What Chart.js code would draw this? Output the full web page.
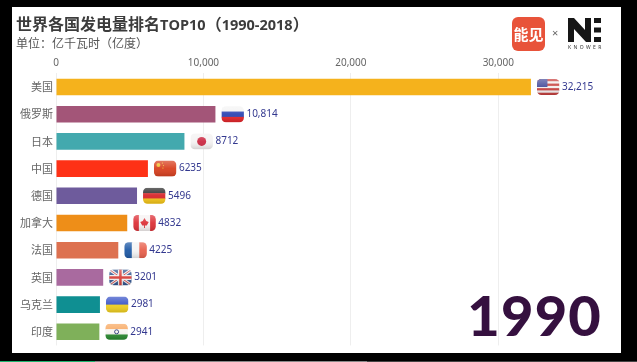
<!doctype html>
<html lang="zh">
  <head>
    <meta charset="utf-8">
    <title>世界各国发电量排名TOP10</title>
    <script src="https://cdn.jsdelivr.net/npm/chart.js"></script>
    <style>
      html, body { margin: 0; padding: 0; background: #000; overflow: hidden; }
      #panel { position: absolute; left: 12px; top: 7px; width: 609px; height: 346px; background: #fff; }
      #panel canvas { position: absolute; left: 0; top: 0; }
      #title { position: absolute; left: 4px; top: 5px; white-space: nowrap; font: 700 16px/22px "Noto Sans CJK SC"; color: #3c3c3c; }
      #title span { font: 700 14.5px/22px "Open Sans"; }
      #subtitle { position: absolute; left: 4px; top: 27px; white-space: nowrap; font: 12px/18px "Noto Sans CJK SC"; color: #555; }
      #year { position: absolute; right: 19px; top: 273px; font: 900 56px/70px Lato, sans-serif; color: #35103f; letter-spacing: 1.2px; }
      #logo { position: absolute; left: 500px; top: 10px; width: 33px; height: 34px; border-radius: 6px; background: #e8533a; color: #fff; font: 700 15px/34px "Noto Sans CJK SC"; text-align: center; }
      #times { position: absolute; left: 540px; top: 18px; font: 11px/16px "Noto Sans"; color: #666; }
      #ne { position: absolute; left: 556px; top: 11px; }
      #knower { position: absolute; left: 556px; top: 37px; font: 5px/6px "Noto Sans"; letter-spacing: 2.4px; color: #333; }
      .bar { position: absolute; top: 354px; height: 1px; }
    </style>
  </head>
  <body>
    <div id="panel">
      <canvas id="rankChart" width="609" height="348"></canvas>
      <div id="title">世界各国发电量排名<span>TOP10</span>（<span>1990-2018</span>）</div>
      <div id="subtitle">单位：亿千瓦时（亿度）</div>
      <div id="year">1990</div>
      <div id="logo">能见</div>
      <div id="times">×</div>
      <svg id="ne" width="34" height="24" viewBox="0 0 34 24">
        <polygon fill="#161616" points="0,0 6,0 17,12 17,0 23,0 23,24 18,24 6,11 6,24 0,24"/>
        <rect fill="#161616" x="26" y="0" width="7" height="5"/>
        <rect fill="#161616" x="26" y="9.5" width="7" height="5"/>
        <rect fill="#161616" x="26" y="19" width="7" height="5"/>
      </svg>
      <div id="knower">KNOWER</div>
      <div class="bar" style="left:-12px;width:95px;background:#1db56f"></div>
      <div class="bar" style="left:83px;width:272px;background:#888"></div>
      <div class="bar" style="left:355px;width:270px;background:#444"></div>
    </div>

    <script>
      const countries = ['美国', '俄罗斯', '日本', '中国', '德国', '加拿大', '法国', '英国', '乌克兰', '印度'];
      const values = [32215, 10814, 8712, 6235, 5496, 4832, 4225, 3201, 2981, 2941];
      const barColors = ['#f5b21c', '#a35578', '#43a9ae', '#fe3116', '#6e5b9c', '#ee8e18', '#dd7150', '#a96a9f', '#0f8f92', '#7fb05a'];
      const xTicks = [0, 10000, 20000, 30000];

      const FLAG_W = 22.5, FLAG_H = 16;

      function stripes(ctx, colors, vertical) {
        colors.forEach(function (c, i) {
          ctx.fillStyle = c;
          if (vertical) ctx.fillRect(i * FLAG_W / colors.length, 0, FLAG_W / colors.length + 0.5, FLAG_H);
          else ctx.fillRect(0, i * FLAG_H / colors.length, FLAG_W, FLAG_H / colors.length + 0.5);
        });
      }

      function line(ctx, color, width, x1, y1, x2, y2) {
        ctx.strokeStyle = color;
        ctx.lineWidth = width;
        ctx.beginPath();
        ctx.moveTo(x1, y1);
        ctx.lineTo(x2, y2);
        ctx.stroke();
      }

      // each flag is drawn in a local 22.5 x 16 box
      const flagPainters = {
        '美国': function (ctx) {
          stripes(ctx, ['#c8413f', '#f3eeee', '#c8413f', '#f3eeee', '#c8413f', '#f3eeee', '#c8413f']);
          ctx.fillStyle = '#4a4f9c';
          ctx.fillRect(0, 0, 10.5, 8);
        },
        '俄罗斯': function (ctx) { stripes(ctx, ['#f4f4f4', '#2c46b4', '#e5252a']); },
        '日本': function (ctx) {
          ctx.fillStyle = '#f4f2f2';
          ctx.fillRect(0, 0, FLAG_W, FLAG_H);
          ctx.fillStyle = '#cc2a44';
          ctx.beginPath();
          ctx.arc(FLAG_W / 2, FLAG_H / 2, 4.5, 0, Math.PI * 2);
          ctx.fill();
        },
        '中国': function (ctx) {
          ctx.fillStyle = '#d8401f';
          ctx.fillRect(0, 0, FLAG_W, FLAG_H);
          ctx.fillStyle = '#f0c030';
          ctx.beginPath();
          ctx.arc(4.5, 4.5, 2, 0, Math.PI * 2);
          ctx.fill();
          [[8, 2], [9, 4.5], [8.5, 7]].forEach(function (p) { ctx.fillRect(p[0], p[1], 1, 1); });
        },
        '德国': function (ctx) { stripes(ctx, ['#2a2a2a', '#d8262a', '#f4c518']); },
        '加拿大': function (ctx) {
          stripes(ctx, ['#dd3138', '#f6f2f2', '#f6f2f2', '#dd3138'], true);
          ctx.fillStyle = '#dd3138';
          ctx.beginPath();
          ctx.moveTo(11.25, 3);
          ctx.lineTo(13, 6);
          ctx.lineTo(15.5, 7);
          ctx.lineTo(13.5, 10.5);
          ctx.lineTo(11.7, 10.5);
          ctx.lineTo(11.7, 13);
          ctx.lineTo(10.8, 13);
          ctx.lineTo(10.8, 10.5);
          ctx.lineTo(9, 10.5);
          ctx.lineTo(7, 7);
          ctx.lineTo(9.5, 6);
          ctx.closePath();
          ctx.fill();
        },
        '法国': function (ctx) { stripes(ctx, ['#1f5aa6', '#f4f4f4', '#e8604c'], true); },
        '英国': function (ctx) {
          ctx.fillStyle = '#33568f';
          ctx.fillRect(0, 0, FLAG_W, FLAG_H);
          line(ctx, '#eee', 3, 0, 0, FLAG_W, FLAG_H);
          line(ctx, '#eee', 3, FLAG_W, 0, 0, FLAG_H);
          line(ctx, '#d0484a', 1, 0, 0, FLAG_W, FLAG_H);
          line(ctx, '#d0484a', 1, FLAG_W, 0, 0, FLAG_H);
          line(ctx, '#eee', 5, FLAG_W / 2, 0, FLAG_W / 2, FLAG_H);
          line(ctx, '#eee', 5, 0, FLAG_H / 2, FLAG_W, FLAG_H / 2);
          line(ctx, '#d8403a', 2.5, FLAG_W / 2, 0, FLAG_W / 2, FLAG_H);
          line(ctx, '#d8403a', 2.5, 0, FLAG_H / 2, FLAG_W, FLAG_H / 2);
        },
        '乌克兰': function (ctx) { stripes(ctx, ['#3a55c8', '#f0cf20']); },
        '印度': function (ctx) {
          stripes(ctx, ['#f8a860', '#f6f4f0', '#2a8a30']);
          ctx.strokeStyle = '#33407f';
          ctx.lineWidth = 1;
          ctx.beginPath();
          ctx.arc(FLAG_W / 2, FLAG_H / 2, 2, 0, Math.PI * 2);
          ctx.stroke();
        }
      };

      function valueLabel(v) {
        return v >= 10000 ? v.toLocaleString('en-US') : String(v);
      }

      // flag and number at the end of each bar, placed from the bar elements
      const barEndPlugin = {
        id: 'barEnd',
        afterDatasetsDraw: function (chart) {
          const ctx = chart.ctx;
          chart.getDatasetMeta(0).data.forEach(function (bar, i) {
            const fx = bar.x + 6, fy = bar.y - FLAG_H / 2;
            ctx.save();
            ctx.translate(fx, fy);
            ctx.beginPath();
            ctx.roundRect(0, 0, FLAG_W, FLAG_H, 4.5);
            ctx.clip();
            flagPainters[countries[i]](ctx);
            const gloss = ctx.createLinearGradient(0, 0, 0, FLAG_H);
            gloss.addColorStop(0, 'rgba(255,255,255,0.3)');
            gloss.addColorStop(0.5, 'rgba(255,255,255,0.05)');
            gloss.addColorStop(1, 'rgba(0,0,0,0.14)');
            ctx.fillStyle = gloss;
            ctx.fillRect(0, 0, FLAG_W, FLAG_H);
            ctx.restore();

            ctx.save();
            ctx.fillStyle = '#33388f';
            ctx.font = '10px "Noto Sans"';
            ctx.textBaseline = 'middle';
            ctx.fillText(valueLabel(values[i]), bar.x + 31, bar.y);
            ctx.restore();
          });
        }
      };

      new Chart(document.getElementById('rankChart'), {
        type: 'bar',
        data: {
          labels: countries,
          datasets: [{
            data: values,
            backgroundColor: barColors,
            barPercentage: 0.61,
            categoryPercentage: 1
          }]
        },
        plugins: [barEndPlugin],
        options: {
          indexAxis: 'y',
          responsive: false,
          animation: false,
          layout: { padding: { left: 4, right: 49, top: 43.4, bottom: 1 } },
          plugins: {
            legend: { display: false },
            tooltip: { enabled: false }
          },
          scales: {
            x: {
              position: 'top',
              min: 0,
              max: 35000,
              afterFit: function (scale) { scale.height = 23; },
              afterBuildTicks: function (scale) {
                scale.ticks = xTicks.map(function (v) { return { value: v }; });
              },
              grid: { color: '#eeeeee', drawTicks: false },
              border: { display: false },
              ticks: {
                padding: 4,
                color: '#666',
                maxRotation: 0,
                font: { family: '"Noto Sans"', size: 10 },
                callback: function (v) { return v.toLocaleString('en-US'); }
              }
            },
            y: {
              afterFit: function (scale) { scale.width = 40; },
              grid: { display: false, drawTicks: false },
              border: { display: false },
              ticks: {
                padding: 3,
                color: '#666',
                autoSkip: false,
                font: { family: '"Noto Sans CJK SC"', size: 11 }
              }
            }
          }
        }
      });
    </script>
  </body>
</html>
